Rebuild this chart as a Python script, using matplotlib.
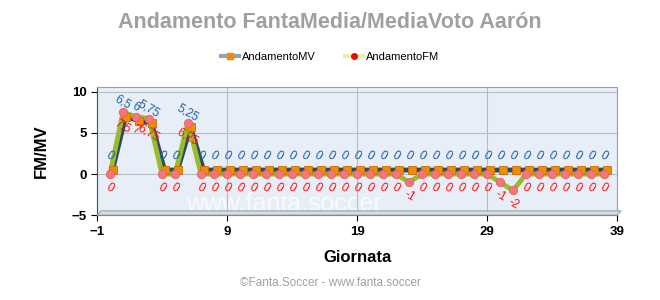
import numpy as np
import matplotlib
matplotlib.use("Agg")
import matplotlib.pyplot as plt
import matplotlib.transforms as mtransforms
from matplotlib.lines import Line2D
from matplotlib.patches import Polygon

plt.rcParams["font.family"] = ["Liberation Sans", "DejaVu Sans"]

# data
giornate = list(range(0, 39))
media_voto = [0, 6.5, 6, 5.75, 0, 0, 5.25] + [0] * 32
fanta_media = [0, 7.5, 7, 6.75, 0, 0, 6.25] + [0] * 32
fanta_media[23] = -1
fanta_media[30] = -1
fanta_media[31] = -2
x_ticks = [-1, 9, 19, 29, 39]
y_ticks = [-5, 0, 5, 10]


def fmt(v):
    """italian style decimal labels"""
    s = ("%g" % v)
    return s.replace(".", ",")


fig = plt.figure(figsize=(6.6, 3.0), dpi=100)
fig.patch.set_facecolor("white")
ax = fig.add_axes([0.147, 0.283, 0.788, 0.427])
ax.set_facecolor("#E8EEF8")

# fake 3d floor
floor = Polygon([[0.147, 0.283], [0.935, 0.283], [0.941, 0.297], [0.153, 0.297]],
                closed=True, transform=fig.transFigure, facecolor="#D8DEE6",
                edgecolor="#9AA0A8", lw=0.8, zorder=0)
fig.patches.append(floor)

ax.set_xlim(-1, 39)
ax.set_ylim(-5, 10.6)
ax.set_xticks(x_ticks)
ax.set_yticks(y_ticks)
ax.grid(color="#B8BCC4", linewidth=0.8)
for s in ax.spines.values():
    s.set_color("#9AA0A8")
ax.spines["left"].set_color("#505050")
ax.spines["bottom"].set_color("#505050")
ax.tick_params(labelsize=9.5, length=4, colors="black")
for lab in ax.get_xticklabels() + ax.get_yticklabels():
    lab.set_fontweight("bold")

# MV series sits in the back row, shifted a little up/right
back = mtransforms.offset_copy(ax.transData, fig=fig, x=2.5, y=4, units="dots")
ax.plot(giornate, media_voto, color="#2E4A62", lw=3.5, transform=back, zorder=2)
ax.plot(giornate, fanta_media, color="#9BBB2E", lw=3.5, zorder=3)
ax.plot(giornate, media_voto, ls="none", marker="s", ms=6, color="#F08C00",
        mec="#C86E00", mew=0.6, transform=back, zorder=4)
ax.plot(giornate, fanta_media, ls="none", marker="o", ms=6, color="#F47878",
        mec="#E86060", mew=0.6, zorder=5)

for x, v in zip(giornate, media_voto):
    ax.annotate(fmt(v), (x, v), xytext=(0, 13), textcoords="offset points",
                ha="center", va="center", rotation=-30, fontsize=8.5,
                color="#1F5FA0", zorder=6, annotation_clip=False)
for x, v in zip(giornate, fanta_media):
    ax.annotate(fmt(v), (x, v), xytext=(0, -10), textcoords="offset points",
                ha="center", va="center", rotation=-30, fontsize=8.5,
                color="#FF1010", zorder=6, annotation_clip=False)

# watermark
ax.text(0.36, 0.09, "www.fanta.soccer", transform=ax.transAxes, fontsize=18,
        color="white", alpha=0.75, ha="center", va="center", zorder=1)

ax.set_xlabel("Giornata", fontsize=12, fontweight="bold", labelpad=9)
ax.set_ylabel("FM/MV", fontsize=12, fontweight="bold", labelpad=16)

fig.text(0.5, 0.925, "Andamento FantaMedia/MediaVoto Aarón", ha="center",
         va="center", fontsize=15.5, fontweight="bold", color="#A0A0A0")
fig.text(0.5, 0.055, "©Fanta.Soccer - www.fanta.soccer", ha="center",
         va="center", fontsize=8.5, color="#A0A0A0")

handles = [
    Line2D([], [], color="#8FA3B8", lw=3, marker="s", ms=5, mfc="#F08C00", mec="#F08C00"),
    Line2D([], [], color="#E5F2A0", lw=3, marker="o", ms=4, mfc="#FF0000", mec="#FF0000"),
]
fig.legend(handles, ["AndamentoMV", "AndamentoFM"], loc="center",
           bbox_to_anchor=(0.5, 0.81), ncol=2, frameon=False, fontsize=8,
           handlelength=1.6, handletextpad=0.3, columnspacing=2.6)

plt.savefig("out.png", dpi=100)
